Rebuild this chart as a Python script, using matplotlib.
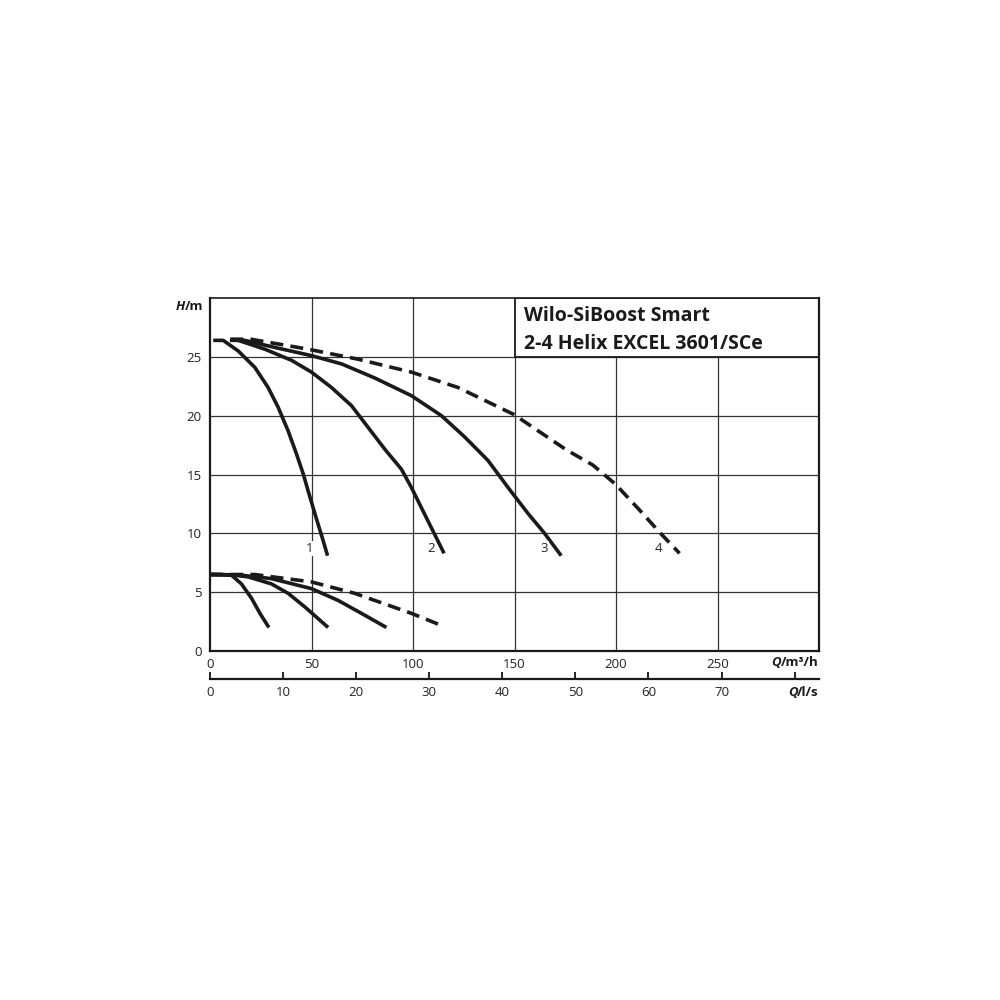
import numpy as np
import matplotlib
matplotlib.use('Agg')
import matplotlib.pyplot as plt
from matplotlib.patches import Rectangle

# --- curve data (Q in m3/h, H in m) ----------------------------------------
# max speed curves, 1..3 pumps solid, 4 pumps dashed
q1 = [1.6, 6.5, 13.9, 22.1, 28.6, 33.6, 38.5, 42.6, 45.9, 49.2, 52.5, 55.7, 57.9]
h1 = [26.4, 26.4, 25.5, 24.1, 22.4, 20.7, 18.7, 16.75, 15.06, 13.1, 11.2, 9.4, 8.1]
q2 = [9.8, 13.9, 27.0, 40.2, 50.0, 59.8, 69.7, 77.9, 86.1, 94.3, 99.2, 105.8, 110.7, 115.3]
h2 = [26.4, 26.4, 25.65, 24.7, 23.7, 22.4, 20.85, 19.0, 17.15, 15.45, 13.9, 11.6, 9.9, 8.3]
q3 = [13.8, 17.2, 31.9, 50.0, 64.8, 81.2, 99.2, 114.0, 125.4, 136.9, 146.8, 156.6, 164.8, 173.0]
h3 = [26.4, 26.4, 25.8, 25.1, 24.4, 23.2, 21.7, 20.0, 18.2, 16.2, 13.9, 11.7, 10.0, 8.1]
q4 = [10.0, 20.0, 48.3, 72.9, 99.2, 122.1, 149.7, 175.5, 188.6, 199.6, 211.5, 221.4, 231.3]
h4 = [26.5, 26.5, 25.65, 24.8, 23.7, 22.4, 20.1, 17.1, 15.8, 14.2, 12.0, 10.1, 8.3]

# min speed curves
qa = [0.0, 5.0, 10.6, 15.5, 20.5, 24.6, 29.0]
ha = [6.5, 6.5, 6.44, 5.7, 4.47, 3.2, 2.0]
qb = [0.0, 10.0, 18.8, 30.3, 38.5, 46.7, 58.2]
hb = [6.5, 6.48, 6.3, 5.7, 4.9, 3.75, 2.0]
qc = [0.0, 15.0, 30.3, 50.0, 63.1, 74.6, 86.9]
hc = [6.5, 6.45, 6.15, 5.3, 4.3, 3.2, 2.0]
qd = [0.0, 22.1, 50.0, 71.3, 99.2, 115.6]
hd = [6.5, 6.5, 5.87, 4.9, 3.2, 2.06]

curve_labels = ['1', '2', '3', '4']
label_q = [49.2, 108.8, 164.4, 221.0]
label_h = 8.7

q_ticks = [0, 50, 100, 150, 200, 250]
h_ticks = [0, 5, 10, 15, 20, 25]
ls_ticks = [0, 10, 20, 30, 40, 50, 60, 70, 80]
ls_labels = ['0', '10', '20', '30', '40', '50', '60', '70', '']

title_lines = ['Wilo-SiBoost Smart', '2-4 Helix EXCEL 3601/SCe']

# ---------------------------------------------------------------------------
plt.rcParams['font.family'] = ['Open Sans', 'DejaVu Sans']
fig = plt.figure(figsize=(10, 10), dpi=100)
ax = fig.add_axes([0.21, 0.349, 0.609, 0.353])
ax.set_xlim(0, 300)
ax.set_ylim(0, 30)

gcol = '#333333'
for xv in q_ticks[1:]:
    ax.plot([xv, xv], [0, 30], c=gcol, lw=0.9, zorder=1)
for yv in h_ticks[1:]:
    ax.plot([0, 300], [yv, yv], c=gcol, lw=0.9, zorder=1)

# title box
ax.add_patch(Rectangle((150, 25), 150, 5, facecolor='white',
                       edgecolor='#1a1a1a', lw=1.3, zorder=2))
ax.text(154.5, 28.5, title_lines[0], fontsize=14, fontweight='bold',
        va='center', ha='left', color='#1a1a1a', zorder=3)
ax.text(154.5, 26.05, title_lines[1], fontsize=14, fontweight='bold',
        va='center', ha='left', color='#1a1a1a', zorder=3)

lc = '#1a1a1a'
for q, h in [(q1, h1), (q2, h2), (q3, h3), (qa, ha), (qb, hb), (qc, hc)]:
    ax.plot(q, h, c=lc, lw=2.6, solid_capstyle='butt', solid_joinstyle='round', zorder=4)
for q, h in [(q4, h4), (qd, hd)]:
    ax.plot(q, h, c=lc, lw=2.6, ls=(0, (3.6, 2.0)), dash_capstyle='butt', zorder=4)

for lab, xq in zip(curve_labels, label_q):
    ax.text(xq, label_h, lab, fontsize=9.5, ha='center', va='center',
            color='#222222', zorder=5,
            bbox=dict(boxstyle='square,pad=0.1', fc='white', ec='none'))

for side in ['left', 'bottom', 'right']:
    ax.spines[side].set_linewidth(1.6)
ax.spines['top'].set_linewidth(1.2)
for s in ax.spines.values():
    s.set_color('#1a1a1a')
    s.set_zorder(6)

ax.set_xticks(q_ticks)
ax.set_yticks(h_ticks)
ax.tick_params(axis='both', length=0, labelsize=9.5, colors='#222222')
ax.tick_params(axis='x', pad=5)
ax.tick_params(axis='y', pad=6)

# secondary axis in l/s
sec = ax.secondary_xaxis(-0.079, functions=(lambda x: x / 3.6, lambda x: x * 3.6))
sec.set_xticks(ls_ticks)
sec.set_xticklabels(ls_labels)
sec.spines['bottom'].set_linewidth(1.6)
sec.spines['bottom'].set_color('#1a1a1a')
sec.tick_params(axis='x', direction='in', length=5, width=1.4, labelsize=9.5,
                colors='#222222', pad=5)

# axis unit labels: italic symbol + upright unit
def unit_label(x, y, sym, unit):
    t = fig.text(x, y, unit, ha='right', va='center', fontsize=9.5,
                 fontweight='bold', color='#1a1a1a')
    ax.annotate(sym, xy=(0, 0), xycoords=t, ha='right', va='bottom',
                fontsize=9.5, fontweight='bold', fontstyle='italic',
                color='#1a1a1a')

unit_label(0.819, 0.337, 'Q', '/m³/h')
unit_label(0.819, 0.307, 'Q', '/l/s')
unit_label(0.203, 0.693, 'H', '/m')

fig.savefig('out.png', dpi=100, facecolor='white')
